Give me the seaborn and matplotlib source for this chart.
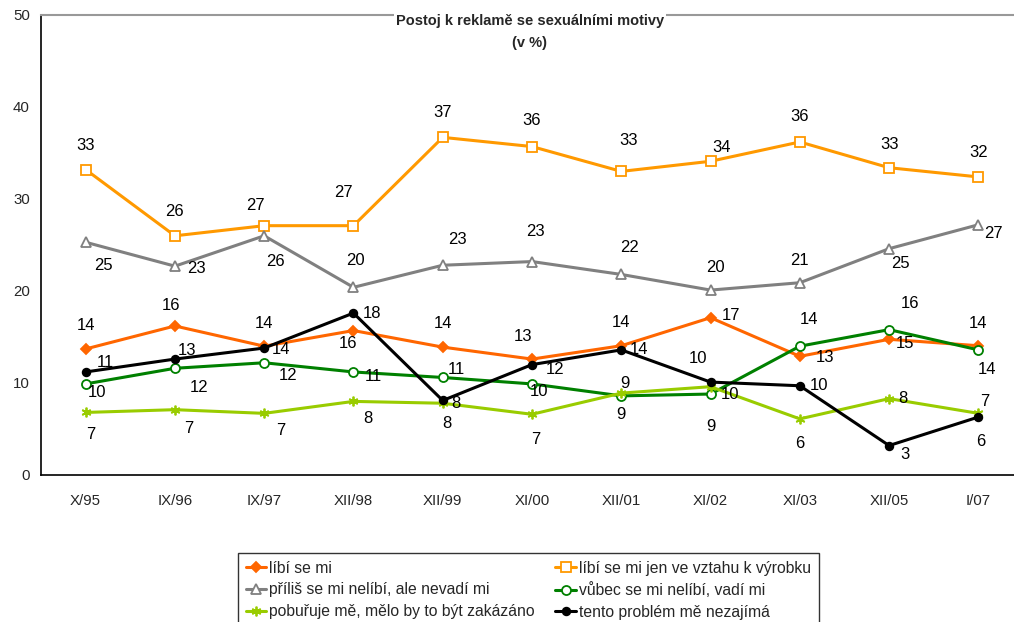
import seaborn as sns
import matplotlib.pyplot as plt
import pandas as pd

periods = ["X/95", "IX/96", "IX/97", "XII/98", "XII/99", "XI/00",
           "XII/01", "XI/02", "XI/03", "XII/05", "I/07"]

libi = [13.7, 16.2, 14.0, 15.7, 13.9, 12.6, 14.05, 17.1, 12.9, 14.75, 14.05]
libi_vyrobek = [33.2, 26.0, 27.1, 27.1, 36.7, 35.7, 33.0, 34.1, 36.2, 33.4, 32.4]
nelibi_nevadi = [25.3, 22.7, 26.0, 20.4, 22.8, 23.2, 21.8, 20.1, 20.9, 24.6, 27.2]
vadi = [9.9, 11.6, 12.2, 11.2, 10.6, 9.9, 8.6, 8.8, 14.0, 15.8, 13.6]
pobuřuje = [6.8, 7.1, 6.7, 8.0, 7.8, 6.6, 8.9, 9.6, 6.1, 8.3, 6.7]
nezajima = [11.2, 12.6, 13.8, 17.6, 8.1, 12.0, 13.6, 10.1, 9.7, 3.2, 6.3]

series_names = ["líbí se mi", "líbí se mi jen ve vztahu k výrobku",
                "příliš se mi nelíbí, ale nevadí mi", "vůbec se mi nelíbí, vadí mi",
                "pobuřuje mě, mělo by to být zakázáno", "tento problém mě nezajímá"]
series_values = [libi, libi_vyrobek, nelibi_nevadi, vadi, pobuřuje, nezajima]

# styling per series
colors = ["#FF6600", "#FF9900", "#808080", "#008000", "#99CC00", "#000000"]
markers = ["D", "s", "^", "o", (6, 2, 0), "o"]
msizes = [5, 7, 7, 6.5, 7, 5.5]
filled = [True, False, False, False, True, True]

# label offsets in pixels (dx, dy up)
label_offsets = [
    [(0, 23), (-4, 20), (0, 23), (-5, -13), (0, 24), (-9, 23), (0, 23), (20, 2), (25, -1), (16, -4), (0, 22)],
    [(0, 24), (0, 24), (-9, 20), (-10, 33), (0, 25), (0, 26), (7, 31), (11, 14), (0, 25), (0, 23), (0, 24)],
    [(18, -23), (22, -2), (11, -26), (2, 27), (15, 26), (3, 30), (8, 27), (5, 23), (0, 22), (11, -15), (15, -9)],
    [(11, -9), (24, -19), (24, -13), (20, -5), (14, 8), (7, -8), (0, -19), (0, -32), (9, 27), (21, 26), (9, -20)],
    [(5, -22), (14, -19), (17, -17), (14, -17), (4, -20), (4, -25), (4, 10), (19, -8), (0, -25), (14, 0), (6, 12)],
    [(20, 9), (12, 9), (17, -1), (19, 0), (13, -3), (23, -5), (18, 0), (-13, 24), (19, 0), (16, -9), (2, -24)],
]

df = pd.DataFrame({"obdobi": periods})
for name, vals in zip(series_names, series_values):
    df[name] = vals
long = df.melt(id_vars="obdobi", var_name="postoj", value_name="procento")

sns.set_style("white")
plt.rcParams["font.family"] = ["Liberation Sans", "DejaVu Sans"]

fig = plt.figure(figsize=(10.14, 6.22), dpi=100)
ax = fig.add_axes([41 / 1014, (622 - 475) / 622, 982 / 1014, 460 / 622])

handles = {}
for i, name in enumerate(series_names):
    sub = long[long["postoj"] == name]
    sns.lineplot(data=sub, x="obdobi", y="procento", ax=ax, color=colors[i],
                 linewidth=2.2, sort=False, legend=False, label=name,
                 marker=markers[i], markersize=msizes[i],
                 markerfacecolor=colors[i] if filled[i] else "white",
                 markeredgecolor=colors[i], markeredgewidth=1.3)
    handles[name] = ax.lines[-1]
    for j, v in enumerate(series_values[i]):
        dx, dy = label_offsets[i][j]
        ax.annotate(f"{v:.0f}", (j, v), xytext=(dx, dy), textcoords="offset pixels",
                    ha="center", va="center", fontsize=12, color="black")

ax.set_xlim(-0.5, len(periods) - 0.5)
ax.set_ylim(0, 50)
ax.set_yticks(range(0, 51, 10))
ax.set_xticks(range(len(periods)))
ax.set_xticklabels(periods)
ax.set_xticks([k - 0.5 for k in range(len(periods) + 1)], minor=True)
ax.tick_params(axis="x", which="major", length=0, pad=14, labelsize=10.8)
ax.tick_params(axis="x", which="minor", length=5, width=1, direction="out", color="black")
ax.tick_params(axis="y", length=5, width=1, direction="out", color="black", labelsize=10.8, pad=3)
ax.set_xlabel("")
ax.set_ylabel("")
for s in ["left", "bottom"]:
    ax.spines[s].set_color("black")
    ax.spines[s].set_linewidth(1.2)
ax.spines["top"].set_color("#999999")
ax.spines["top"].set_linewidth(1.5)
ax.spines["right"].set_visible(False)

fig.text(530 / 1014, 1 - 32 / 622, "Postoj k reklamě se sexuálními motivy\n(v %)",
         ha="center", va="center", fontsize=10.5, fontweight="bold", linespacing=1.75,
         bbox=dict(facecolor="white", edgecolor="none", pad=1.5))

order = [0, 2, 4, 1, 3, 5]
leg = fig.legend([handles[series_names[k]] for k in order],
                 [series_names[k] for k in order],
                 loc="upper left", bbox_to_anchor=(238 / 1014, 1 - 553 / 622),
                 ncol=2, frameon=True, fancybox=False, fontsize=11.3,
                 handlelength=1.3, handletextpad=0.2, columnspacing=1.3,
                 labelspacing=0.42, borderpad=0.5, borderaxespad=0)
leg.get_frame().set_edgecolor("black")
leg.get_frame().set_linewidth(1.0)

fig.savefig("out.png", dpi=100)
